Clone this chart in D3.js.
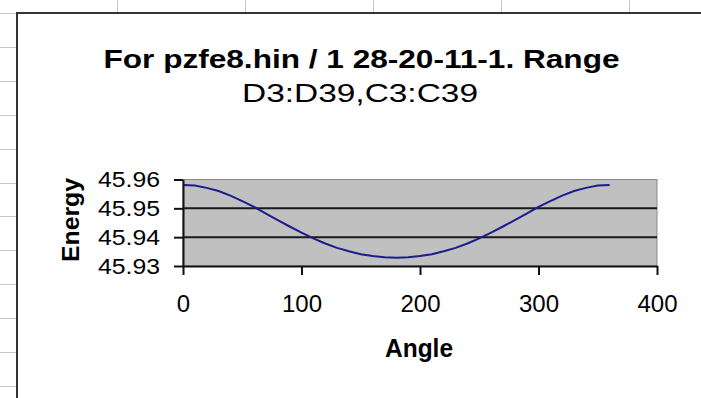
<!DOCTYPE html>
<html>
<head>
<meta charset="utf-8">
<script src="https://cdn.jsdelivr.net/npm/d3@7"></script>
<style>
  html, body { margin: 0; padding: 0; background: #fff; }
  svg { display: block; }
  text { font-family: "Liberation Sans", Arial, sans-serif; fill: #000; }
</style>
</head>
<body>
<svg id="chart" width="701" height="398"></svg>
<script>
// Torsion scan: angle (degrees) against energy
const angles = [0, 10, 20, 30, 40, 50, 60, 70, 80, 90, 100, 110, 120, 130, 140, 150, 160, 170, 180,
                190, 200, 210, 220, 230, 240, 250, 260, 270, 280, 290, 300, 310, 320, 330, 340, 350, 360];
const energy = [45.9581, 45.9579, 45.9571, 45.9560, 45.9544, 45.9525, 45.9505, 45.9482, 45.9459, 45.9437,
                45.9416, 45.9396, 45.9378, 45.9363, 45.9351, 45.9341, 45.9335, 45.9330, 45.9329,
                45.9330, 45.9335, 45.9341, 45.9351, 45.9363, 45.9378, 45.9396, 45.9416, 45.9437,
                45.9459, 45.9482, 45.9505, 45.9525, 45.9544, 45.9560, 45.9571, 45.9579, 45.9581];
const xTicks = [0, 100, 200, 300, 400];
const yTicks = [45.93, 45.94, 45.95, 45.96];
const gridValues = [45.94, 45.95];
const titleLines = ["For pzfe8.hin / 1 28-20-11-1. Range", "D3:D39,C3:C39"];
const xTitle = "Angle";
const yTitle = "Energy";

const svg = d3.select("#chart");

// worksheet cell gridlines peeking around the chart object
const sheet = svg.append("g").attr("stroke", "#c8c8c8").attr("stroke-width", 1);
[117, 245, 373, 501, 629].forEach(x =>
  sheet.append("line").attr("x1", x + 0.5).attr("x2", x + 0.5).attr("y1", 0).attr("y2", 12));
d3.range(12).map(i => Math.round(13 + i * 33.9)).forEach(y =>
  sheet.append("line").attr("x1", 0).attr("x2", 16).attr("y1", y + 0.5).attr("y2", y + 0.5));

// chart object border
svg.append("path")
  .attr("d", "M17,398 L17,13 L701,13")
  .attr("fill", "none").attr("stroke", "#333").attr("stroke-width", 2);

// scales
const x = d3.scaleLinear().domain([0, 400]).range([183, 657]);
const y = d3.scaleLinear().domain([45.93, 45.96]).range([266, 179.5]);

// plot area
svg.append("rect")
  .attr("x", x(0)).attr("y", y(45.96))
  .attr("width", x(400) - x(0)).attr("height", y(45.93) - y(45.96))
  .attr("fill", "#c0c0c0").attr("stroke", "#8a8a8a").attr("stroke-width", 1);

// major gridlines
svg.append("g").selectAll("line").data(gridValues).join("line")
  .attr("x1", x(0)).attr("x2", x(400))
  .attr("y1", d => y(d)).attr("y2", d => y(d))
  .attr("stroke", "#1a1a1a").attr("stroke-width", 2);

// series line
svg.append("path")
  .datum(angles.map((a, i) => [a, energy[i]]))
  .attr("fill", "none")
  .attr("stroke", "#1c1c8e")
  .attr("stroke-width", 2)
  .attr("d", d3.line().x(d => x(d[0])).y(d => y(d[1])));

// axes
const yAxis = svg.append("g")
  .attr("transform", `translate(${x(0)},0)`)
  .call(d3.axisLeft(y).tickValues(yTicks).tickFormat(d3.format(".2f"))
    .tickSize(9).tickSizeOuter(0).tickPadding(14));
const xAxis = svg.append("g")
  .attr("transform", `translate(0,${y(45.93)})`)
  .call(d3.axisBottom(x).tickValues(xTicks).tickFormat(d3.format("d"))
    .tickSize(9).tickSizeOuter(0).tickPadding(20));

[yAxis, xAxis].forEach(g => {
  g.select(".domain").attr("stroke", "#111").attr("stroke-width", 2);
  g.selectAll(".tick line").attr("stroke", "#111").attr("stroke-width", 2);
  g.selectAll("text").attr("font-family", "Liberation Sans, Arial, sans-serif").attr("fill", "#111");
});
yAxis.selectAll("text").attr("font-size", 22)
  .attr("textLength", 62).attr("lengthAdjust", "spacingAndGlyphs");
xAxis.selectAll("text").attr("font-size", 24);

// title: first line bold, second line regular
svg.append("g").selectAll("text").data(titleLines).join("text")
  .attr("x", (d, i) => i === 0 ? 361.5 : 360)
  .attr("y", (d, i) => 68 + i * 33.5)
  .attr("text-anchor", "middle")
  .attr("font-size", 26)
  .attr("font-weight", (d, i) => i === 0 ? "bold" : "normal")
  .attr("textLength", (d, i) => i === 0 ? 516 : 236)
  .attr("lengthAdjust", "spacingAndGlyphs")
  .text(d => d);

// axis titles
svg.append("text")
  .attr("x", 419).attr("y", 357)
  .attr("text-anchor", "middle")
  .attr("font-size", 25).attr("font-weight", "bold")
  .attr("textLength", 68).attr("lengthAdjust", "spacingAndGlyphs")
  .text(xTitle);

svg.append("text")
  .attr("transform", "translate(79,220) rotate(-90)")
  .attr("text-anchor", "middle")
  .attr("font-size", 24).attr("font-weight", "bold")
  .attr("textLength", 84).attr("lengthAdjust", "spacingAndGlyphs")
  .text(yTitle);
</script>
</body>
</html>
